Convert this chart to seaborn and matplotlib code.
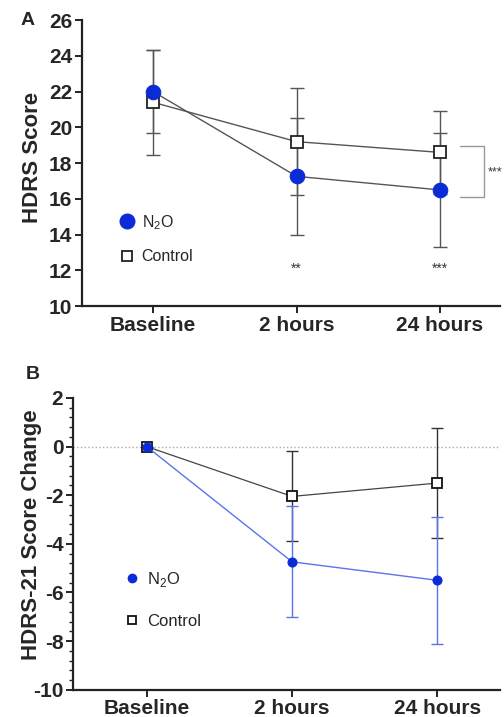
import numpy as np
import pandas as pd
import matplotlib
matplotlib.use('Agg')
import matplotlib.pyplot as plt
import matplotlib.transforms as mtransforms
from matplotlib.lines import Line2D
from matplotlib.ticker import AutoMinorLocator
import seaborn as sns

# Data
times = ['Baseline', '2 hours', '24 hours']

# Panel A: HDRS score (mean and SD)
n2o_score = [22.0, 17.26, 16.5]
n2o_score_sd = [2.3, 3.26, 3.2]
ctrl_score = [21.4, 19.2, 18.6]
ctrl_score_sd = [2.95, 3.0, 2.3]

# Panel B: change from baseline
n2o_change = [0.0, -4.74, -5.5]
n2o_change_sd = [0.0, 2.28, 2.6]
ctrl_change = [0.0, -2.05, -1.5]
ctrl_change_sd = [0.0, 1.85, 2.26]

stars_time = ['**', '***']

sns.set_style('ticks')
plt.rcParams['font.family'] = ['Liberation Sans', 'DejaVu Sans']
plt.rcParams['mathtext.fontset'] = 'custom'
plt.rcParams['mathtext.rm'] = 'Liberation Sans'
plt.rcParams['axes.unicode_minus'] = False

blue = '#0a2bd6'
light_blue = '#5a74ee'
grey = '#555555'

x = np.arange(len(times))
df_a = pd.DataFrame({'x': x, 'n2o': n2o_score, 'ctrl': ctrl_score})
df_b = pd.DataFrame({'x': x, 'n2o': n2o_change, 'ctrl': ctrl_change})

fig = plt.figure(figsize=(5.04, 7.17), dpi=100)
ax1 = fig.add_axes([0.163, 0.573, 0.829, 0.399])
ax2 = fig.add_axes([0.145, 0.038, 0.847, 0.407])

# ---- Panel A ----
ax1.errorbar(x, ctrl_score, yerr=ctrl_score_sd, fmt='none', ecolor=grey,
             elinewidth=1, capsize=5, capthick=1, zorder=1)
ax1.errorbar(x, n2o_score, yerr=n2o_score_sd, fmt='none', ecolor=grey,
             elinewidth=1, capsize=5, capthick=1, zorder=1)
sns.lineplot(data=df_a, x='x', y='ctrl', ax=ax1, color=grey, linewidth=1,
             marker='s', markersize=9, markerfacecolor='white',
             markeredgecolor='#222222', markeredgewidth=1.3, zorder=3)
sns.lineplot(data=df_a, x='x', y='n2o', ax=ax1, color=grey, linewidth=1,
             marker='o', markersize=10.5, markerfacecolor=blue,
             markeredgecolor=blue, zorder=4)

ax1.set_xlim(-0.495, 2.418)
ax1.set_ylim(10, 26)
ax1.set_yticks(np.arange(10, 27, 2))
ax1.set_xticks(x)
ax1.set_xticklabels(times)
ax1.set_xlabel('')
ax1.set_ylabel('HDRS Score', fontsize=16, fontweight='bold')
ax1.yaxis.set_label_coords(-0.093, 0.52)

for xi, s in zip(x[1:], stars_time):
    ax1.text(xi, 12.1, s, ha='center', va='center', fontsize=10, color='#333333')

# significance bracket between groups at the right
trans = mtransforms.blended_transform_factory(ax1.transAxes, ax1.transData)
ax1.plot([0.904, 0.962, 0.962, 0.904], [18.95, 18.95, 16.1, 16.1],
         color='#999999', linewidth=1, transform=trans, clip_on=False)
ax1.text(0.97, 17.5, '***', transform=trans, fontsize=9, color='#333333',
         ha='left', va='center', clip_on=False)

handles_a = [Line2D([], [], marker='o', linestyle='none', markersize=10.5,
                    markerfacecolor=blue, markeredgecolor=blue),
             Line2D([], [], marker='s', linestyle='none', markersize=7.5,
                    markerfacecolor='white', markeredgecolor='#222222',
                    markeredgewidth=1.3)]
ax1.legend(handles_a, [r'N$_\mathregular{2}$O', 'Control'], loc='center left',
           bbox_to_anchor=(0.07, 0.236), frameon=False, fontsize=11.5,
           handlelength=1, handletextpad=0.4, labelspacing=1.1, borderpad=0)

ax1.text(-0.13, 1.0, 'A', transform=ax1.transAxes, fontsize=14,
         fontweight='bold', ha='center', va='center')

# ---- Panel B ----
ax2.axhline(0, color='#aaaaaa', linestyle=':', linewidth=1, zorder=0)
ax2.errorbar(x, ctrl_change, yerr=ctrl_change_sd, fmt='none', ecolor='#333333',
             elinewidth=1, capsize=4, capthick=1, zorder=1)
ax2.errorbar(x, n2o_change, yerr=n2o_change_sd, fmt='none', ecolor=light_blue,
             elinewidth=1, capsize=4, capthick=1, zorder=2)
sns.lineplot(data=df_b, x='x', y='ctrl', ax=ax2, color='#444444', linewidth=0.9,
             marker='s', markersize=7, markerfacecolor='white',
             markeredgecolor='#111111', markeredgewidth=1.3, zorder=3)
sns.lineplot(data=df_b, x='x', y='n2o', ax=ax2, color=light_blue, linewidth=1,
             marker='o', markersize=6.5, markerfacecolor=blue,
             markeredgecolor=blue, zorder=4)

ax2.set_xlim(-0.506, 2.43)
ax2.set_ylim(-10, 2)
ax2.set_yticks(np.arange(-10, 3, 2))
ax2.yaxis.set_minor_locator(AutoMinorLocator(5))
ax2.set_xticks(x)
ax2.set_xticklabels(times)
ax2.set_xlabel('')
ax2.set_ylabel('HDRS-21 Score Change', fontsize=16, fontweight='bold')
ax2.yaxis.set_label_coords(-0.073, 0.53)

handles_b = [Line2D([], [], marker='o', linestyle='none', markersize=6,
                    markerfacecolor=blue, markeredgecolor=blue),
             Line2D([], [], marker='s', linestyle='none', markersize=6,
                    markerfacecolor='white', markeredgecolor='#111111',
                    markeredgewidth=1.3)]
ax2.legend(handles_b, [r'N$_\mathregular{2}$O', 'Control'], loc='center left',
           bbox_to_anchor=(0.1, 0.31), frameon=False, fontsize=12,
           handlelength=1, handletextpad=0.4, labelspacing=1.5, borderpad=0)

ax2.text(-0.095, 1.08, 'B', transform=ax2.transAxes, fontsize=14,
         fontweight='bold', ha='center', va='center')

for ax in (ax1, ax2):
    sns.despine(ax=ax)
    for side in ('left', 'bottom'):
        ax.spines[side].set_linewidth(1.6)
        ax.spines[side].set_color('#222222')
    ax.tick_params(axis='both', which='major', labelsize=15, width=1.4,
                   length=5, color='#222222', pad=2)
    ax.tick_params(axis='y', which='minor', width=1, length=3, color='#222222')
    for lab in ax.get_xticklabels() + ax.get_yticklabels():
        lab.set_fontweight('bold')

fig.savefig('out.png', dpi=100)
